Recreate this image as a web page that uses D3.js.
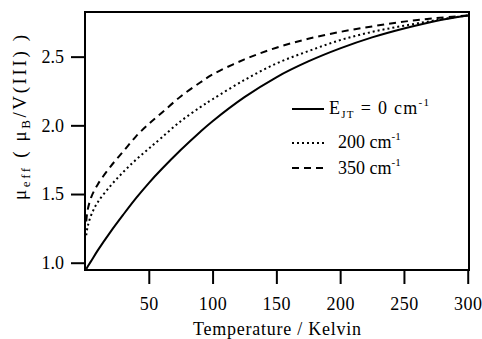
<!DOCTYPE html>
<html>
<head>
<meta charset="utf-8">
<script src="https://cdn.jsdelivr.net/npm/d3@7"></script>
<style>
  body { margin: 0; background: #fff; }
  svg text { font-family: "Liberation Serif", "DejaVu Serif", serif; fill: #000; }
</style>
</head>
<body>
<div id="chart"></div>
<script>
// temperatures (K) and effective moments for the three E_JT curves
var temps    = [1, 2, 5, 10, 20, 30, 40, 50, 60, 75, 90, 100, 125, 150, 175, 200, 225, 250, 275, 300];
var mu_0     = [0.955, 0.97, 1.015, 1.09, 1.225, 1.35, 1.47, 1.58, 1.68, 1.82, 1.95, 2.03, 2.205, 2.35, 2.465, 2.56, 2.64, 2.705, 2.76, 2.80];
var mu_200   = [1.20, 1.26, 1.35, 1.44, 1.56, 1.66, 1.75, 1.83, 1.91, 2.03, 2.13, 2.19, 2.33, 2.45, 2.54, 2.62, 2.68, 2.725, 2.765, 2.80];
var mu_350   = [1.30, 1.38, 1.48, 1.57, 1.70, 1.81, 1.92, 2.01, 2.09, 2.21, 2.31, 2.37, 2.48, 2.565, 2.63, 2.68, 2.72, 2.755, 2.78, 2.80];
var xTicks = [50, 100, 150, 200, 250, 300];
var yTicks = [1.0, 1.5, 2.0, 2.5];

(function() {
    var w = 482, h = 339;
    var pLeft = 85, pRight = 469, pTop = 12, pBottom = 270;
    var serif = "Liberation Serif, DejaVu Serif, serif";

    var svg = d3.select("#chart").append("svg")
        .attr("width", w)
        .attr("height", h);

    var x = d3.scaleLinear().domain([0, 301]).range([pLeft, pRight]);
    var y = d3.scaleLinear().domain([0.947, 2.825]).range([pBottom, pTop]);

    var series = [
        { vals: mu_0,   dash: null },
        { vals: mu_200, dash: "2,3" },
        { vals: mu_350, dash: "7,5" }
    ];

    var line = d3.line()
        .x(function(d) { return x(d[0]); })
        .y(function(d) { return y(d[1]); })
        .curve(d3.curveCatmullRom.alpha(0.5));

    svg.selectAll("path.curve")
        .data(series)
        .enter()
        .append("path")
        .attr("class", "curve")
        .attr("d", function(s) { return line(temps.map(function(t, i) { return [t, s.vals[i]]; })); })
        .attr("fill", "none")
        .attr("stroke", "#000")
        .attr("stroke-width", 2)
        .attr("stroke-dasharray", function(s) { return s.dash; });

    // frame
    svg.append("rect")
        .attr("x", pLeft).attr("y", pTop)
        .attr("width", pRight - pLeft).attr("height", pBottom - pTop)
        .attr("fill", "none").attr("stroke", "#000").attr("stroke-width", 2);

    var xAxis = svg.append("g")
        .attr("transform", "translate(0," + pBottom + ")")
        .call(d3.axisBottom(x).tickValues(xTicks).tickSize(14).tickPadding(13).tickFormat(d3.format("d")));
    var yAxis = svg.append("g")
        .attr("transform", "translate(" + pLeft + ",0)")
        .call(d3.axisLeft(y).tickValues(yTicks).tickSize(14).tickPadding(7).tickFormat(d3.format(".1f")));

    [xAxis, yAxis].forEach(function(g) {
        g.attr("font-family", serif);
        g.select(".domain").remove();
        g.selectAll("line").attr("stroke", "#000").attr("stroke-width", 2);
        g.selectAll("text").attr("font-size", 18).attr("font-family", serif);
    });
    xAxis.selectAll("text").attr("letter-spacing", 0.5);

    // axis titles
    svg.append("text")
        .attr("x", 193)
        .attr("y", 335)
        .attr("textLength", 168)
        .attr("lengthAdjust", "spacing")
        .attr("font-family", serif)
        .attr("font-size", 18)
        .text("Temperature / Kelvin");

    var yt = svg.append("text")
        .attr("transform", "translate(26,200) rotate(-90)")
        .attr("textLength", 165)
        .attr("lengthAdjust", "spacing")
        .attr("font-family", serif)
        .attr("font-size", 19);
    yt.append("tspan").text("\u03bc");
    yt.append("tspan").attr("font-size", 13).attr("dy", 4).text("eff");
    yt.append("tspan").attr("dy", -4).text(" ( \u03bc");
    yt.append("tspan").attr("font-size", 13).attr("dy", 4).text("B");
    yt.append("tspan").attr("dy", -4).text("/V(III) )");

    // legend
    var legend = [
        { y: 109, dash: null },
        { y: 143, dash: "2,3" },
        { y: 168, dash: "7,5" }
    ];
    svg.selectAll("line.leg")
        .data(legend)
        .enter()
        .append("line")
        .attr("class", "leg")
        .attr("x1", 292).attr("x2", 324)
        .attr("y1", function(d) { return d.y; })
        .attr("y2", function(d) { return d.y; })
        .attr("stroke", "#000")
        .attr("stroke-width", 2)
        .attr("stroke-dasharray", function(d) { return d.dash; });

    var l1 = svg.append("text").attr("x", 329).attr("y", 114)
        .attr("textLength", 100).attr("lengthAdjust", "spacing")
        .attr("font-family", serif).attr("font-size", 18);
    l1.append("tspan").text("E");
    l1.append("tspan").attr("font-size", 11).attr("dy", 4).text("JT");
    l1.append("tspan").attr("dy", -4).text(" = 0 cm");
    l1.append("tspan").attr("font-size", 11).attr("dy", -8).text("-1");

    [{ y: 148, t: "200 cm" }, { y: 174, t: "350 cm" }].forEach(function(d) {
        var tx = svg.append("text").attr("x", 338).attr("y", d.y)
            .attr("font-family", serif).attr("font-size", 18);
        tx.append("tspan").text(d.t);
        tx.append("tspan").attr("font-size", 11).attr("dy", -8).text("-1");
    });
})();
</script>
</body>
</html>
